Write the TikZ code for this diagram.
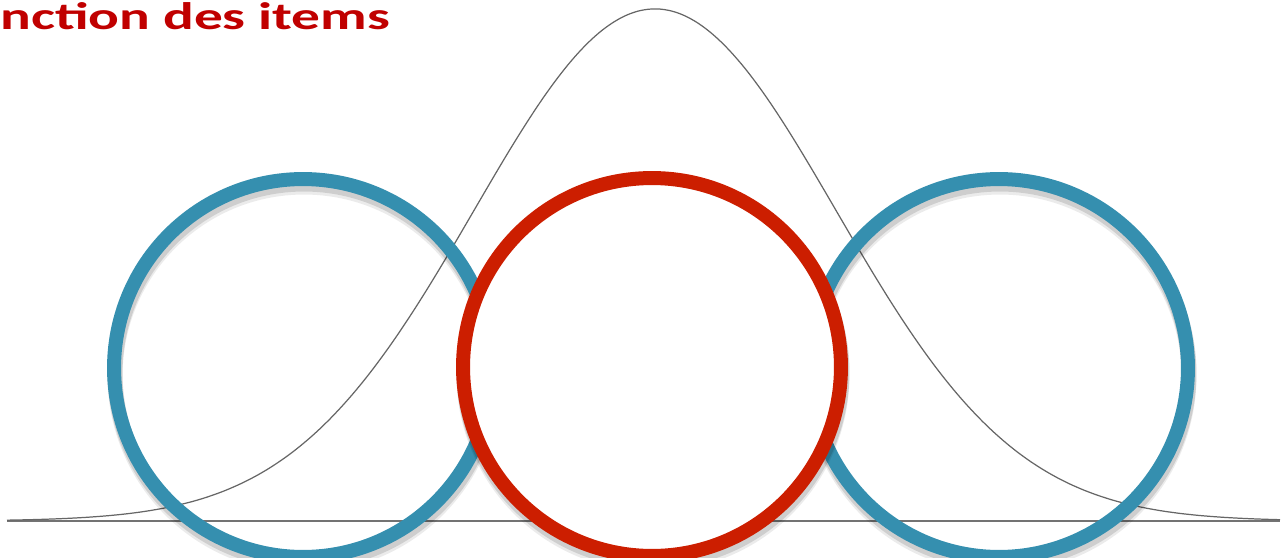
\documentclass[tikz,border=0pt]{standalone}
\usepackage{fontspec}
\setmainfont{Carlito}
\usepackage{tikz}
\usetikzlibrary{positioning, calc}

\definecolor{ringblue}{RGB}{53,143,175}
\definecolor{ringred}{RGB}{204,30,0}
\definecolor{titlered}{RGB}{192,0,0}

\begin{document}
\begin{tikzpicture}[
      x=0.02cm, y=-0.02cm,
      ring/.style={circle, line width=0.28cm, minimum size=7.56cm, inner sep=0pt, outer sep=0pt},
      ringshadow/.style={circle, draw=black, line width=0.30cm, minimum size=7.56cm, inner sep=0pt, outer sep=0pt, opacity=0.12},
      axis/.style={draw=black!55, line width=1.1pt},
      curve/.style={draw=black!60, line width=0.7pt},
      title/.style={text=titlered, font=\bfseries, inner sep=0pt, anchor=base west}
  ]
      \clip (0,0) rectangle (1282,558);

      % Title (cut at the left)
      \node[title] (title) at (0,29) {\resizebox{7.8cm}{0.54cm}{nction des items}};

      % Axis and bell curve
      \coordinate (axisL) at (7,521);
      \coordinate (axisR) at (1280,521);
      \draw[axis] (axisL) -- (axisR);
      \draw[curve] plot[domain=7:1280, samples=241, smooth] (\x, {521-512*exp(-((\x-655)/181)^2/2)});

      % Blue circles
      \node[ringshadow] (lowS) at (304,373) {};
      \node[ringshadow, opacity=0.08] at (304,376) {};
      \node[ring, draw=ringblue] (low) at (303,368) {};
      \node[ringshadow] (highS) at (1000,373) {};
      \node[ringshadow, opacity=0.08] at (1000,376) {};
      \node[ring, draw=ringblue] (high) at (999,368) {};

      % Red circle on top
      \node[ringshadow] (midS) at (653,372) {};
      \node[ringshadow, opacity=0.08] at (653,375) {};
      \node[ring, draw=ringred, fill=white] (mid) at (652,367) {};
  \end{tikzpicture}
\end{document}
